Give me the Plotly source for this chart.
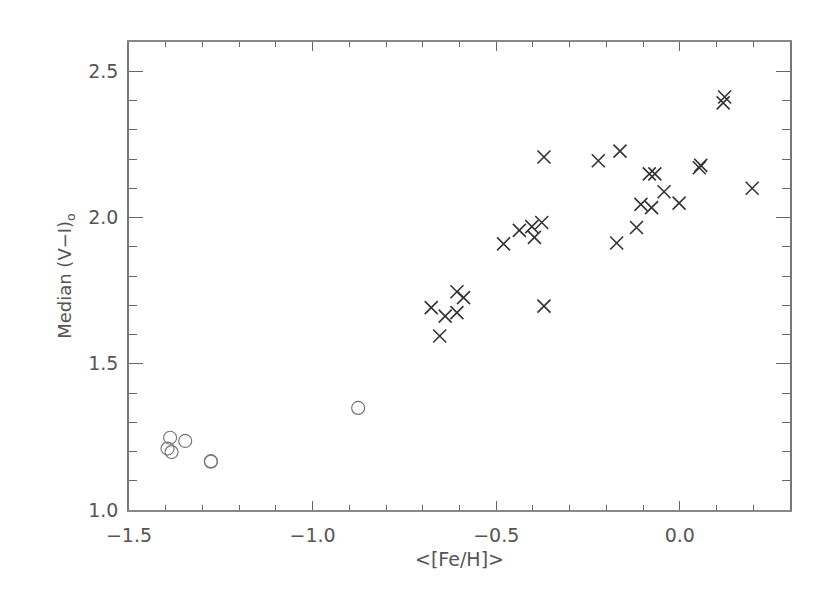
import plotly.graph_objects as go

# Metal-rich clusters (crosses)
cross_feh = [0.122, 0.118, -0.370, -0.222, -0.163, -0.083, -0.068, 0.053, 0.057,
             0.197, -0.043, -0.106, -0.077, -0.002, -0.118, -0.172, -0.480, -0.437,
             -0.403, -0.376, -0.396, -0.370, -0.607, -0.589, -0.677, -0.639, -0.607,
             -0.654]
cross_vi = [2.412, 2.392, 2.207, 2.194, 2.227, 2.149, 2.149, 2.170, 2.178,
            2.100, 2.088, 2.045, 2.034, 2.049, 1.966, 1.913, 1.910, 1.956,
            1.969, 1.983, 1.932, 1.697, 1.746, 1.726, 1.692, 1.663, 1.675,
            1.595]

# Metal-poor clusters (circles)
circ_feh = [-0.876, -1.388, -1.347, -1.395, -1.384, -1.277, -1.277]
circ_vi = [1.349, 1.247, 1.236, 1.210, 1.198, 1.167, 1.165]

x_range = [-1.5, 0.3]
y_range = [1.0, 2.6]
x_title = "&lt;[Fe/H]&gt;"
y_title = "Median (V\u2212I)<sub>o</sub>"

fig = go.Figure()
fig.add_trace(go.Scatter(
    x=cross_feh, y=cross_vi, mode="markers",
    marker=dict(symbol="x-thin-open", size=13, color="#333333",
                line=dict(width=1.6, color="#333333")),
    showlegend=False))
fig.add_trace(go.Scatter(
    x=circ_feh, y=circ_vi, mode="markers",
    marker=dict(symbol="circle-open", size=13, color="#777777",
                line=dict(width=1.2, color="#777777")),
    showlegend=False))

FONT = "DejaVu Sans, Liberation Sans, sans-serif"
tick_font = dict(family=FONT, size=19, color="#555555")
fig.update_layout(
    width=830, height=594,
    margin=dict(l=121, r=48, t=34, b=92),
    paper_bgcolor="white", plot_bgcolor="white",
    xaxis=dict(range=x_range, dtick=0.5, tick0=0, tickformat=".1f",
               showgrid=False, zeroline=False, showline=True, linecolor="#888888",
               linewidth=2, mirror="ticks", ticks="inside", ticklen=9, tickwidth=1,
               tickcolor="#666666", ticklabelstandoff=7,
               minor=dict(dtick=0.1, ticks="inside", ticklen=5, tickcolor="#666666", showgrid=False),
               tickfont=tick_font,
               title=dict(text=x_title, font=dict(family=FONT, size=19, color="#555555"),
                          standoff=8)),
    yaxis=dict(range=y_range, dtick=0.5, tick0=0, tickformat=".1f",
               showgrid=False, zeroline=False, showline=True, linecolor="#777777",
               linewidth=1.5, mirror="ticks", ticks="inside", ticklen=14, tickwidth=1,
               tickcolor="#666666", ticklabelstandoff=5,
               minor=dict(dtick=0.1, ticks="inside", ticklen=8, tickcolor="#666666", showgrid=False),
               tickfont=tick_font,
               title=dict(text=y_title, font=dict(family=FONT, size=18, color="#555555"),
                          standoff=12)),
)

fig.write_html("out.html")
